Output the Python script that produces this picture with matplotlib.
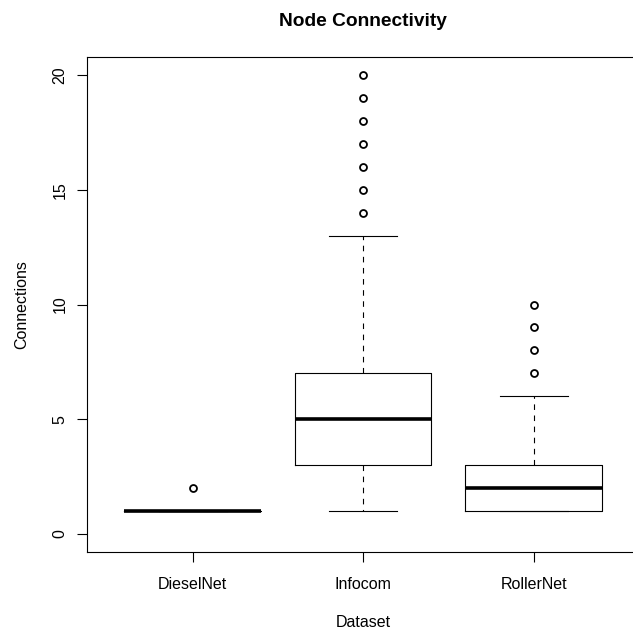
import matplotlib
matplotlib.use("Agg")
import matplotlib.pyplot as plt

# summary stats
datasets = ["DieselNet", "Infocom", "RollerNet"]
whislo = [1, 1, 1]
q1 = [1, 3, 1]
med = [1, 5, 2]
q3 = [1, 7, 3]
whishi = [1, 13, 6]
fliers = [[2], [14, 15, 16, 17, 18, 19, 20], [7, 8, 9, 10]]

plt.rcParams['font.family'] = ['Liberation Sans', 'DejaVu Sans']

stats = []
for i, name in enumerate(datasets):
    stats.append(dict(label=name, whislo=whislo[i], q1=q1[i], med=med[i],
                      q3=q3[i], whishi=whishi[i], fliers=fliers[i]))

fig = plt.figure(figsize=(6.33, 6.34), dpi=100)
# right edge of the frame falls just outside the picture, as in the reference
ax = fig.add_axes([0.1374, 0.1293, 0.8727, 0.7808])

ax.bxp(stats, positions=[1, 2, 3], widths=0.8, showfliers=True,
       boxprops=dict(color='black', linewidth=0.8),
       medianprops=dict(color='black', linewidth=2.6, solid_capstyle='butt'),
       whiskerprops=dict(color='black', linewidth=0.8, linestyle=(0, (5, 5))),
       capprops=dict(color='black', linewidth=0.8),
       capwidths=0.4,
       flierprops=dict(marker='o', markerfacecolor='none', markeredgecolor='black',
                       markersize=5, markeredgewidth=1.3))

ax.set_xlim(0.38, 3.62)
ax.set_ylim(-0.8, 20.8)
ax.set_yticks([0, 5, 10, 15, 20])
ax.set_xticks([1, 2, 3])
ax.set_xticklabels(datasets)
ax.tick_params(axis='both', length=7, width=0.8, labelsize=11.5)
ax.tick_params(axis='x', pad=11)
ax.tick_params(axis='y', pad=7)
plt.setp(ax.get_yticklabels(), rotation=90, va='center')

for s in ax.spines.values():
    s.set_linewidth(0.8)

ax.set_title("Node Connectivity", fontsize=13.8, fontweight='bold', pad=22)
ax.set_xlabel("Dataset", fontsize=11.5, labelpad=16.5)
ax.set_ylabel("Connections", fontsize=11.5, labelpad=16.5)

fig.savefig("out.png", dpi=100)
